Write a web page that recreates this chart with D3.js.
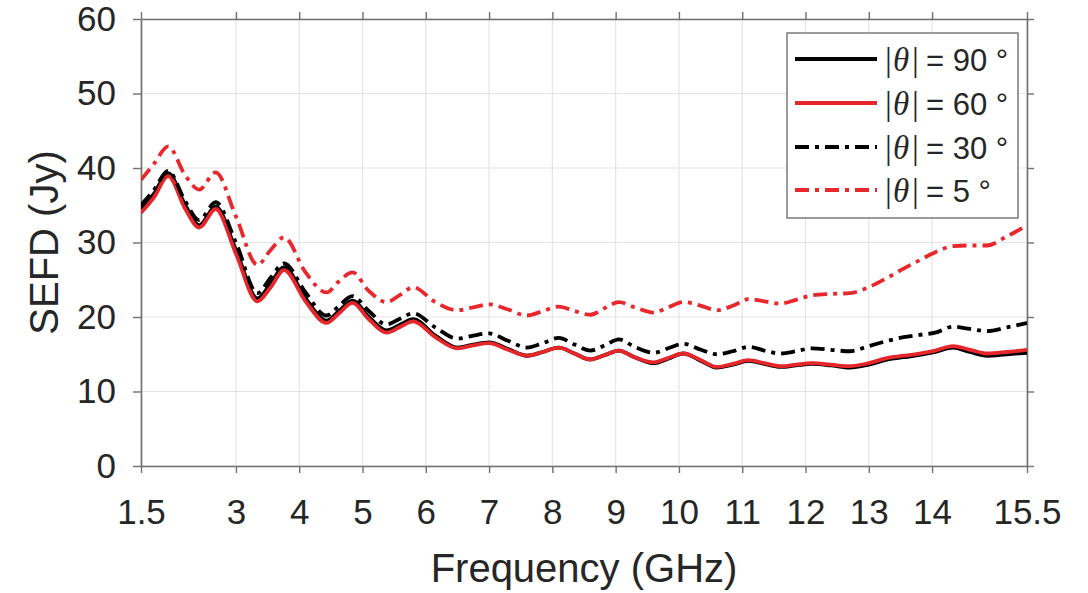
<!DOCTYPE html>
<html>
<head>
<meta charset="utf-8">
<script src="https://cdn.jsdelivr.net/npm/d3@7"></script>
<style>
  html, body { margin: 0; padding: 0; background: #fff; }
  svg { display: block; }
</style>
</head>
<body>
<svg id="chart" width="1088" height="593"></svg>
<script>
const freq = [1.5, 1.7, 1.93, 2.2, 2.42, 2.68, 3.0, 3.34, 3.55, 3.76, 4.1, 4.43, 4.63, 4.84, 5.1, 5.38, 5.6, 5.8,
  6.15, 6.5, 6.75, 7.0, 7.3, 7.6, 7.85, 8.1, 8.35, 8.6, 8.83, 9.05, 9.3, 9.6, 9.83, 10.07, 10.35, 10.6, 10.85,
  11.1, 11.35, 11.6, 11.85, 12.1, 12.4, 12.7, 13.0, 13.3, 13.55, 13.8, 14.05, 14.33, 14.6, 14.87, 15.18, 15.5];

const sefd90 = [34.5, 36.5, 39.3, 35.0, 32.3, 34.8, 29.0, 22.5, 24.5, 26.7, 22.5, 19.5, 20.8, 22.2, 20.0, 18.2, 19.0, 19.7,
  17.5, 15.9, 16.3, 16.6, 15.7, 14.8, 15.3, 15.9, 15.1, 14.3, 14.9, 15.5, 14.6, 13.8, 14.4, 15.1, 14.1, 13.2, 13.6,
  14.1, 13.7, 13.3, 13.5, 13.7, 13.5, 13.2, 13.6, 14.3, 14.6, 14.9, 15.3, 15.9, 15.3, 14.8, 15.0, 15.2];

const sefd60 = [34.0, 36.0, 38.9, 34.5, 32.0, 34.5, 28.5, 22.1, 24.0, 26.3, 22.1, 19.2, 20.5, 21.9, 19.7, 17.9, 18.7, 19.4,
  17.3, 15.8, 16.2, 16.5, 15.6, 14.8, 15.3, 15.9, 15.1, 14.3, 14.9, 15.5, 14.6, 13.9, 14.5, 15.1, 14.2, 13.3, 13.7,
  14.2, 13.8, 13.4, 13.6, 13.8, 13.6, 13.4, 13.8, 14.5, 14.8, 15.1, 15.5, 16.1, 15.6, 15.1, 15.3, 15.6];

const sefd30 = [35.0, 37.0, 39.6, 35.5, 33.0, 35.4, 30.0, 23.2, 25.3, 27.2, 23.3, 20.2, 21.5, 22.8, 20.8, 19.0, 19.8, 20.5,
  18.6, 17.1, 17.5, 17.8, 16.8, 15.9, 16.5, 17.2, 16.3, 15.5, 16.2, 17.0, 16.0, 15.2, 15.8, 16.4, 15.6, 15.0, 15.4,
  16.0, 15.5, 15.1, 15.4, 15.8, 15.6, 15.4, 16.1, 16.8, 17.3, 17.6, 17.9, 18.7, 18.4, 18.1, 18.6, 19.2];

const sefd5 = [38.4, 40.5, 42.9, 39.0, 37.1, 39.4, 33.5, 27.0, 29.0, 30.7, 26.0, 23.3, 24.8, 26.0, 23.5, 22.0, 23.0, 24.0,
  22.0, 20.9, 21.3, 21.7, 21.0, 20.2, 20.8, 21.4, 20.8, 20.3, 21.2, 22.0, 21.3, 20.6, 21.3, 22.0, 21.5, 20.9, 21.5,
  22.4, 22.1, 21.8, 22.3, 22.9, 23.1, 23.2, 24.0, 25.3, 26.5, 27.6, 28.7, 29.5, 29.6, 29.6, 30.8, 32.3];

const xTicks = [1.5, 3, 4, 5, 6, 7, 8, 9, 10, 11, 12, 13, 14, 15.5];
const yTicks = [0, 10, 20, 30, 40, 50, 60];
const legendAngles = ["90", "60", "30", "5"];

const seriesList = [
  { values: sefd90, color: "#000000", dash: null },
  { values: sefd60, color: "#e5262a", dash: null },
  { values: sefd30, color: "#000000", dash: "14,6,4,6" },
  { values: sefd5,  color: "#e8282d", dash: "14,6,4,6" }
];

const svg = d3.select("#chart");
const mLeft = 141, mRight = 1027, mTop = 19, mBottom = 466;
const x = d3.scaleLinear().domain([1.5, 15.5]).range([mLeft, mRight]);
const y = d3.scaleLinear().domain([0, 60]).range([mBottom, mTop]);
const font = "'Liberation Sans', Arial, Helvetica, sans-serif";
const serif = "'Liberation Serif', 'Times New Roman', serif";
const axisColor = "#707070";
const textColor = "#262626";

// grid
const grid = svg.append("g");
grid.selectAll("line.gx").data(xTicks).enter().append("line")
  .attr("x1", d => x(d)).attr("x2", d => x(d)).attr("y1", mTop).attr("y2", mBottom)
  .attr("stroke", "#e4e4e4").attr("stroke-width", 1.2);
grid.selectAll("line.gy").data(yTicks).enter().append("line")
  .attr("y1", d => y(d)).attr("y2", d => y(d)).attr("x1", mLeft).attr("x2", mRight)
  .attr("stroke", "#e4e4e4").attr("stroke-width", 1.2);

function styleAxis(g) {
  g.selectAll(".domain").attr("stroke", axisColor).attr("stroke-width", 1.6);
  g.selectAll(".tick line").attr("stroke", axisColor).attr("stroke-width", 1.4);
  g.selectAll(".tick text").attr("fill", textColor).style("font-family", font).style("font-size", "35px");
}
const xb = svg.append("g").attr("transform", `translate(0,${mBottom})`)
  .call(d3.axisBottom(x).tickValues(xTicks).tickFormat(d3.format("")).tickSizeInner(7).tickSizeOuter(0).tickPadding(26));
styleAxis(xb);
const xt = svg.append("g").attr("transform", `translate(0,${mTop})`)
  .call(d3.axisTop(x).tickValues(xTicks).tickFormat("").tickSizeInner(7).tickSizeOuter(0));
styleAxis(xt);
const yl = svg.append("g").attr("transform", `translate(${mLeft},0)`)
  .call(d3.axisLeft(y).tickValues(yTicks).tickSizeInner(8).tickSizeOuter(0).tickPadding(17));
styleAxis(yl);
const yr = svg.append("g").attr("transform", `translate(${mRight},0)`)
  .call(d3.axisRight(y).tickValues(yTicks).tickFormat("").tickSizeInner(7).tickSizeOuter(0));
styleAxis(yr);

// series
const line = d3.line().x((d, i) => x(freq[i])).y(d => y(d)).curve(d3.curveMonotoneX);
svg.append("clipPath").attr("id", "clip").append("rect")
  .attr("x", mLeft).attr("y", mTop).attr("width", mRight - mLeft).attr("height", mBottom - mTop);
const plot = svg.append("g").attr("clip-path", "url(#clip)");
seriesList.forEach(s => {
  plot.append("path").datum(s.values)
    .attr("d", line)
    .attr("fill", "none")
    .attr("stroke", s.color)
    .attr("stroke-width", 3.8)
    .attr("stroke-linejoin", "round")
    .attr("stroke-dasharray", s.dash);
});

// axis labels
svg.append("text").attr("x", (mLeft + mRight) / 2).attr("y", 582)
  .attr("text-anchor", "middle").attr("fill", textColor)
  .style("font-family", font).style("font-size", "40px").text("Frequency (GHz)");
svg.append("text").attr("transform", `translate(58,${(mTop + mBottom) / 2}) rotate(-90)`)
  .attr("text-anchor", "middle").attr("fill", textColor)
  .style("font-family", font).style("font-size", "40px").text("SEFD (Jy)");

// legend
const lg = svg.append("g");
lg.append("rect").attr("x", 787).attr("y", 33).attr("width", 231).attr("height", 185)
  .attr("fill", "#fff").attr("stroke", axisColor).attr("stroke-width", 1.4);
const rowY = [59, 103, 147, 190];
legendAngles.forEach((a, i) => {
  const s = seriesList[i];
  lg.append("line").attr("x1", 795).attr("x2", 877).attr("y1", rowY[i]).attr("y2", rowY[i])
    .attr("stroke", s.color).attr("stroke-width", 3.8).attr("stroke-dasharray", s.dash);
  const t = lg.append("text").attr("y", rowY[i] + 12)
    .attr("fill", textColor).style("font-family", font).style("font-size", "31px");
  t.append("tspan").attr("x", 885).style("font-family", serif).style("font-size", "34px").text("|");
  t.append("tspan").attr("x", 893).style("font-family", serif).style("font-style", "italic").style("font-size", "33px").text("θ");
  t.append("tspan").attr("x", 912).style("font-family", serif).style("font-size", "34px").text("|");
  t.append("tspan").attr("x", 926).text("= " + a + " °");
});
</script>
</body>
</html>
